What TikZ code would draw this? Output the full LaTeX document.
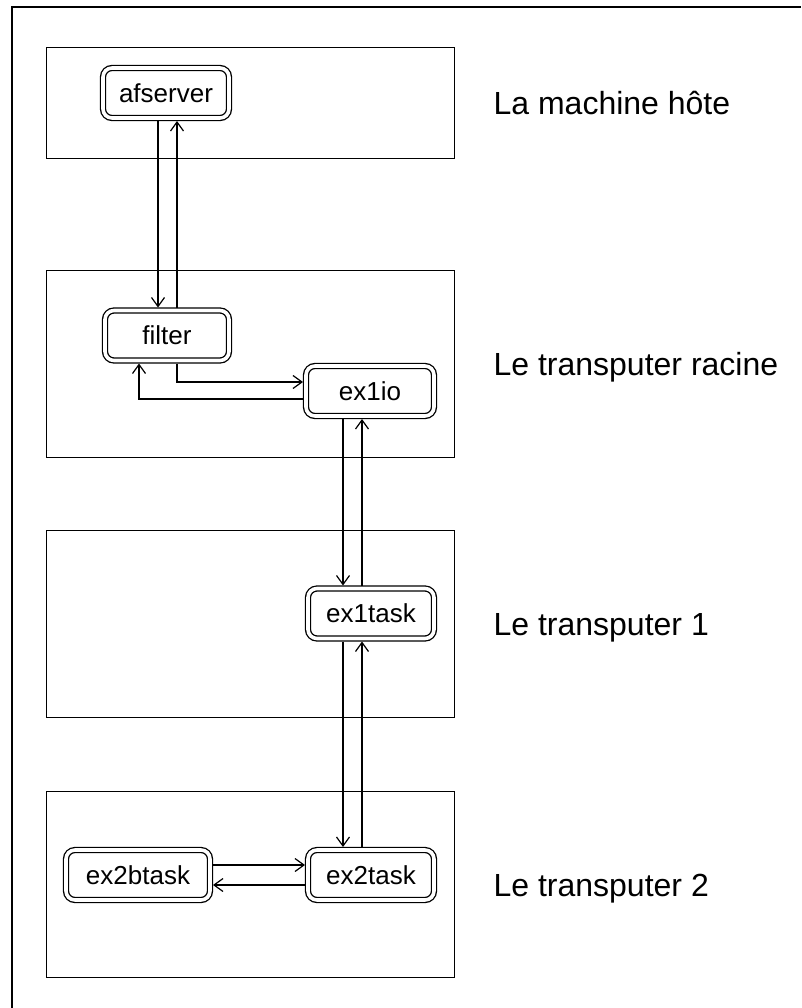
\documentclass[tikz,border=0pt]{standalone}
\usepackage{fontspec}
\setmainfont{Liberation Sans}
\usepackage{tikz}
\usetikzlibrary{arrows.meta, positioning}

\newcommand{\diagfont}{\fontsize{26}{31}\selectfont}
\newcommand{\tagfont}{\fontsize{32}{38}\selectfont}

\begin{document}
\begin{tikzpicture}[
    x=1pt, y=-1pt,
    node distance=38pt,
    panel/.style={draw, rectangle, line width=1.4pt, minimum width=408pt, anchor=north west, inner sep=0pt},
    proc/.style={draw, double, double distance=3.6pt, line width=1.3pt, rounded corners=9pt, minimum width=126pt, minimum height=50pt, outer sep=3pt, font=\diagfont},
    tag/.style={anchor=west, font=\tagfont, text height=23pt, text depth=0pt, inner sep=0pt},
    arrow/.style={-{Straight Barb[length=9pt, width=13pt]}, line width=1.2pt}
]
    \useasboundingbox (0,0) rectangle (801,1008);
    \draw[line width=2.2pt] (12,1008) -- (12,7) -- (801,7);

    % the four processors
    \node[panel, minimum height=111pt] (host) at (46,47) {};
    \node[panel, minimum height=187pt] (root) at (46,270) {};
    \node[panel, minimum height=187pt] (tp1) at (46,530) {};
    \node[panel, minimum height=186pt] (tp2) at (46,791) {};

    \node[tag, right=of host] (hostlbl) {La machine hôte};
    \node[tag, right=of root] (rootlbl) {Le transputer racine};
    \node[tag, right=of tp1] (tp1lbl) {Le transputer 1};
    \node[tag, right=of tp2] (tp2lbl) {Le transputer 2};

    % the tasks
    \node[proc] (afserver) at (166,93) {afserver};
    \node[proc, minimum width=124pt] (filter) at (167,335.5) {filter};
    \node[proc, minimum width=128pt] (ex1io) at (370,391) {ex1io};
    \node[proc] (ex1task) at (371,613.5) {ex1task};
    \node[proc] (ex2task) at (371,875) {ex2task};
    \node[proc, minimum width=144pt] (ex2btask) at (138,875) {ex2btask};

    \draw[arrow] ([xshift=-8pt]afserver.south) -- ([xshift=-8pt]afserver.south |- filter.north);
    \draw[arrow] ([xshift=10pt]filter.north) -- ([xshift=10pt]filter.north |- afserver.south);
    \draw[arrow] ([xshift=10pt]filter.south) |- ([yshift=9pt]ex1io.west);
    \draw[arrow] ([yshift=-8pt]ex1io.west) -| ([xshift=-28pt]filter.south);
    \draw[arrow] ([xshift=-27pt]ex1io.south) -- ([xshift=-27pt]ex1io.south |- ex1task.north);
    \draw[arrow] ([xshift=-9pt]ex1task.north) -- ([xshift=-9pt]ex1task.north |- ex1io.south);
    \draw[arrow] ([xshift=-28pt]ex1task.south) -- ([xshift=-28pt]ex1task.south |- ex2task.north);
    \draw[arrow] ([xshift=-9pt]ex2task.north) -- ([xshift=-9pt]ex2task.north |- ex1task.south);
    \draw[arrow] ([yshift=10pt]ex2btask.east) -- ([yshift=10pt]ex2btask.east -| ex2task.west);
    \draw[arrow] ([yshift=-10pt]ex2task.west) -- ([yshift=-10pt]ex2task.west -| ex2btask.east);
\end{tikzpicture}
\end{document}
